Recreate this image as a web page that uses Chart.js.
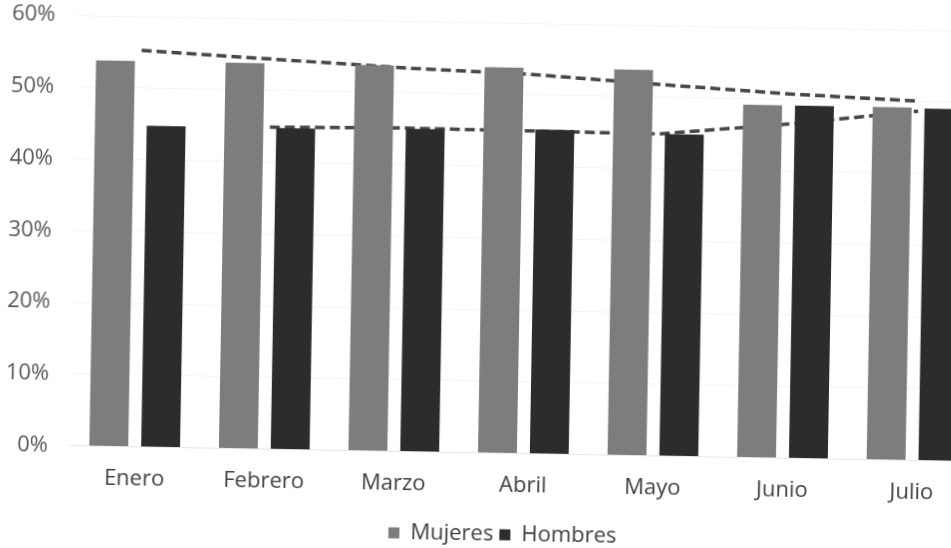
<!DOCTYPE html>
<html>
<head>
<meta charset="utf-8">
<script src="https://cdn.jsdelivr.net/npm/chart.js@4.4.0/dist/chart.umd.min.js"></script>
<style>
  html, body { margin: 0; padding: 0; background: #fff; overflow: hidden; }
  #wrap {
    position: absolute; left: 0; top: -12px;
    width: 1038px; height: 568px;
    transform: rotate(1deg);
    transform-origin: 50% 50%;
  }
</style>
</head>
<body>
<div id="wrap"><canvas id="chart"></canvas></div>
<script>
const meses = ["Enero", "Febrero", "Marzo", "Abril", "Mayo", "Junio", "Julio"];
const mujeres = [53.8, 53.8, 53.8, 53.8, 53.8, 49.2, 49.2];
const hombres = [44.8, 44.8, 45.0, 45.2, 44.9, 49.2, 49.1];
const tendMujeres = [55.3, 54.4, 53.5, 52.9, 51.8, 50.8, 50.1];
const tendHombres = [null, 44.9, 45.1, 45.0, 44.9, 46.6, 48.7];
const yTicks = [0, 10, 20, 30, 40, 50, 60];

const font = { family: "'Open Sans', sans-serif", size: 22 };
const barStyle = { categoryPercentage: 0.8, barPercentage: 0.75, order: 1 };
const lineStyle = {
  type: "line",
  borderColor: "#474747",
  borderWidth: 3.5,
  borderDash: [10, 5],
  pointRadius: 0,
  order: 2,
};

// legend sits a bit right of the canvas centre in the scan
const legendShift = {
  id: "legendShift",
  afterLayout(c) {
    c.legend.left += 17;
    c.legend.right += 17;
  },
};

const chart = new Chart(document.getElementById("chart"), {
  type: "bar",
  data: {
    labels: meses,
    datasets: [
      { ...barStyle, label: "Mujeres", data: mujeres, backgroundColor: "#7d7d7d" },
      { ...barStyle, label: "Hombres", data: hombres, backgroundColor: "#2c2c2c" },
      { ...lineStyle, label: "Tendencia Mujeres", data: tendMujeres },
      { ...lineStyle, label: "Tendencia Hombres", data: tendHombres },
    ],
  },
  options: {
    responsive: true,
    maintainAspectRatio: false,
    animation: false,
    layout: { padding: { top: 1, left: 0, right: 58, bottom: 0 } },
    scales: {
      x: {
        grid: { display: false, drawTicks: false },
        border: { color: "#e6e6e6" },
        ticks: { color: "#404040", font: font, padding: 19 },
      },
      y: {
        min: 0,
        max: 60,
        afterBuildTicks: (s) => { s.ticks = yTicks.map((v) => ({ value: v })); },
        afterFit: (s) => { s.width = 73; },
        grid: { color: "rgba(0,0,0,0.04)", drawTicks: false },
        border: { display: false },
        ticks: {
          color: "#595959",
          font: font,
          padding: 22,
          callback: (v) => v + "%",
        },
      },
    },
    plugins: {
      legend: {
        position: "bottom",
        labels: {
          color: "#404040",
          font: font,
          boxWidth: 11,
          boxHeight: 11,
          padding: 6,
          filter: (item) => item.datasetIndex < 2,
        },
      },
      tooltip: { enabled: false },
    },
  },
  plugins: [legendShift],
});
</script>
</body>
</html>
